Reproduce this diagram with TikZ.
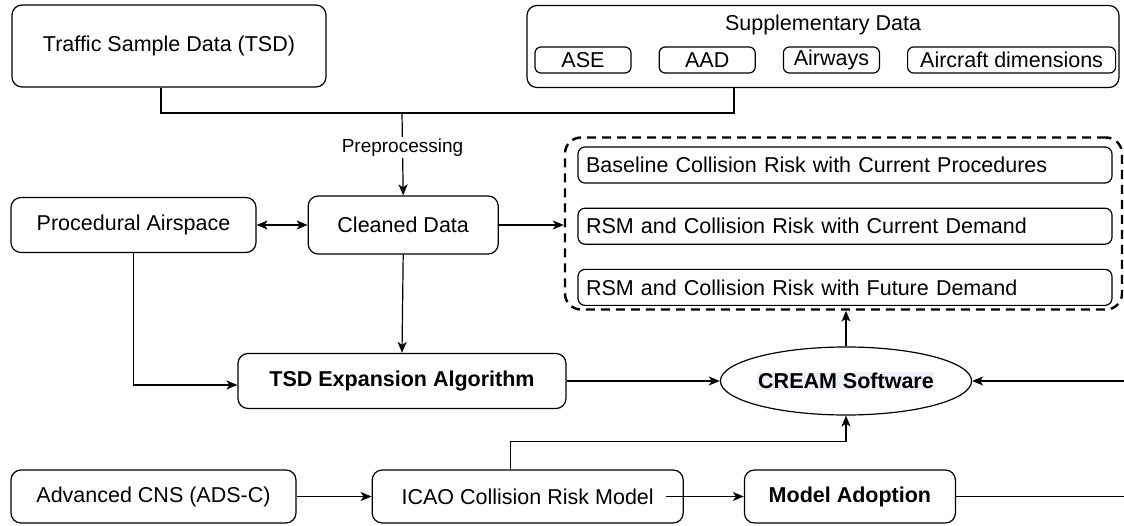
\documentclass[tikz,border=0pt]{standalone}
\usepackage{fontspec}
\setmainfont{Liberation Sans}
\usepackage{tikz}
\usetikzlibrary{positioning, arrows.meta, shapes.geometric}
\usepackage{xcolor}
\definecolor{creamhl}{HTML}{EEF2F7}
\newcommand{\bodysize}{\fontsize{21.5pt}{25pt}\selectfont}
\newcommand{\labsize}{\fontsize{19pt}{22pt}\selectfont}
\tikzset{
  box/.style={rectangle, rounded corners=10pt, draw=black, fill=white,
              line width=1.2pt, align=center, font=\bodysize, inner sep=2pt},
  subbox/.style={rectangle, rounded corners=6pt, draw=black, fill=white,
                 line width=1.2pt, minimum height=26pt, font=\bodysize, inner sep=1pt},
  resbox/.style={rectangle, rounded corners=7pt, draw=black, fill=white,
                 line width=1.2pt, minimum width=534pt, minimum height=36pt,
                 text width=518pt, inner xsep=8pt, align=left, font=\bodysize},
  grpbox/.style={rectangle, rounded corners=16pt, draw=black, line width=2.4pt,
                 dash pattern=on 9pt off 6pt},
  oval/.style={ellipse, draw=black, fill=white, line width=1.2pt, inner sep=0pt,
               font=\bodysize\bfseries},
  line/.style={line width=1.2pt, color=black},
  arr/.style={-{Stealth[length=11pt, width=9pt, inset=3pt]}, line width=1.2pt, color=black},
  dblarr/.style={{Stealth[length=11pt, width=9pt, inset=3pt]}-{Stealth[length=11pt, width=9pt, inset=3pt]},
                 line width=1.2pt, color=black},
}

\begin{document}
\begin{tikzpicture}[x=1pt, y=-1pt, node distance=27pt]
    \useasboundingbox (0,0) rectangle (1124,526);
    \node[box, minimum width=314pt, minimum height=82pt] (tsd) at (169,46)
          {Traffic Sample Data (TSD)};
    \node[box, minimum width=592pt, minimum height=82pt] (supp) at (823,46.5) {};
    \node[font=\bodysize] (supptitle) at (823,25) {Supplementary Data};
    \node[subbox, minimum width=96pt] (ase) at (583,60) {ASE};
    \node[subbox, minimum width=96pt, right=of ase] (aad) {AAD};
    \node[subbox, minimum width=96pt, right=of aad] (airways) {Airways};
    \node[subbox, minimum width=208pt, right=of airways] (dims) {Aircraft dimensions};

    \node[box, minimum width=245pt, minimum height=55pt] (proc) at (133.5,225)
          {Procedural Airspace};
    \node[box, minimum width=190pt, minimum height=58pt, right=51pt of proc] (clean)
          {Cleaned Data};

    \node[resbox] (res1) at (845,165) {Baseline Collision Risk with Current Procedures};
    \node[resbox, below=24pt of res1] (res2) {RSM and Collision Risk with Current Demand};
    \node[resbox, below=24pt of res2] (res3) {RSM and Collision Risk with Future Demand};
    \node[grpbox, minimum width=557pt, minimum height=172pt] (grp) at (843.5,223.5) {};

    \node[box, font=\bodysize\bfseries, minimum width=328pt, minimum height=55pt] (tsdx)
          at (402,381) {TSD Expansion Algorithm};
    \node[oval, minimum width=246pt, minimum height=68pt] (cream) at (846,381)
          {\fboxsep=1pt\colorbox{creamhl}{CREAM Software}};

    \node[box, minimum width=285pt, minimum height=53pt] (cns) at (153.5,496.5)
          {Advanced CNS (ADS-C)};
    \node[box, minimum width=311pt, minimum height=53pt, right=75pt of cns] (icao)
          {ICAO Collision Risk Model};
    \node[box, font=\bodysize\bfseries, minimum width=211pt, minimum height=53pt,
          right=60pt of icao] (adopt) {Model Adoption};

    \coordinate (merge) at (402,113);
    \coordinate (rturn) at (1140,381);
    \draw[line] ([xshift=-8pt]tsd.south) |- (merge) -| ([xshift=-89pt]supp.south);
    \draw[arr] (merge) -- node[pos=0.42, fill=white, inner sep=2pt, font=\labsize]
          {Preprocessing} (clean.north);
    \draw[dblarr] (proc) -- (clean);
    \draw[arr] (clean.east) -- (clean.east -| grp.west);
    \draw[arr] (clean.south) -- (tsdx.north);
    \draw[arr] (proc.south) |- ([yshift=-4pt]tsdx.west);
    \draw[arr] (tsdx) -- (cream);
    \draw[arr] (cream.north) -- (cream.north |- grp.south);
    \draw[arr] (cns) -- (icao);
    \draw[arr] ([xshift=-18pt]icao.east) -- (adopt.west);
    \draw[arr] ([xshift=-17.5pt]icao.north) -- ++(0,-28) -| (cream.south);
    \draw[arr] (adopt.east) -| (rturn) -- (cream.east);
  \end{tikzpicture}
\end{document}
